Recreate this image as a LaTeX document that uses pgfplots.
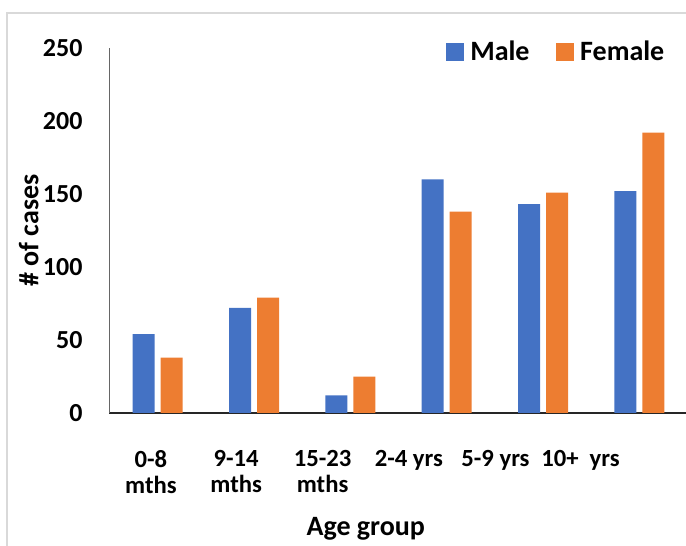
\documentclass[border=0pt]{standalone}
\usepackage{fontspec}
\setmainfont{Carlito}
\usepackage{pgfplots}
\pgfplotsset{compat=1.18}
\definecolor{male}{HTML}{4472C4}
\definecolor{female}{HTML}{ED7D31}
\definecolor{framegray}{HTML}{D9D9D9}
\begin{document}
\begin{tikzpicture}
% page = 686 x 546 px, 1 px = 0.75pt, origin at the plot's lower left corner
\useasboundingbox (-82.125pt,-99.75pt) rectangle (432.375pt,309.75pt);
\draw[framegray, line width=1.1pt] (-76.875pt,-99.75pt) -- (-76.875pt,300pt) -- (432.375pt,300pt);
\begin{axis}[
    at={(0pt,0pt)}, anchor=south west,
    scale only axis,
    width=432.375pt, height=273.75pt,
    ybar=4.5pt, bar width=16.5pt,
    xmin=-0.5, xmax=5.483,
    ymin=0, ymax=250,
    ytick={0,50,...,250},
    xtick={-0.07,0.815,1.712,2.607,3.506,4.388},
    xticklabels={0-8\\mths, 9-14\\mths, 15-23\\mths, 2-4 yrs, 5-9 yrs, 10+~ yrs},
    axis x line*=bottom, axis y line*=left,
    x axis line style={black!85, line width=1.5pt},
    y axis line style={black!60, line width=0.75pt},
    major tick length=0pt, tick style={draw=none},
    yticklabel style={font=\bfseries\fontsize{19.5}{20}\selectfont,
        /pgf/number format/assume math mode=true,
        anchor=east, inner sep=0pt, xshift=-20.1pt},
    xticklabel style={font=\bfseries\fontsize{18.5}{19.6}\selectfont,
        align=center, anchor=north, inner sep=0pt, yshift=-27.75pt},
    xlabel={Age group},
    xlabel style={font=\bfseries\fontsize{21}{24}\selectfont,
        at={(rel axis cs:0.4446,0)}, anchor=base, yshift=-91.5pt},
    ylabel={\# of cases},
    ylabel style={font=\bfseries\fontsize{21}{24}\selectfont,
        at={(rel axis cs:0,0.5)}, anchor=base, yshift=53.4pt},
    legend columns=2,
    legend image code/.code={\fill[#1] (0pt,-6.4pt) rectangle (13pt,6.6pt);},
    legend style={draw=none, fill=none, inner sep=0pt, outer sep=0pt,
        at={(rel axis cs:0.9624,0.989)}, anchor=east,
        font=\bfseries\fontsize{21}{24}\selectfont,
        nodes={inner sep=0pt},
        /tikz/every odd column/.append style={column sep=5pt},
        /tikz/every even column/.append style={column sep=20pt}},
]
\addplot[fill=male, draw=none] coordinates {(0,54) (1,72) (2,12) (3,160) (4,143) (5,152)};
\addplot[fill=female, draw=none] coordinates {(0,38) (1,79) (2,25) (3,138) (4,151) (5,192)};
\legend{Male, Female}
\end{axis}
\end{tikzpicture}
\end{document}
